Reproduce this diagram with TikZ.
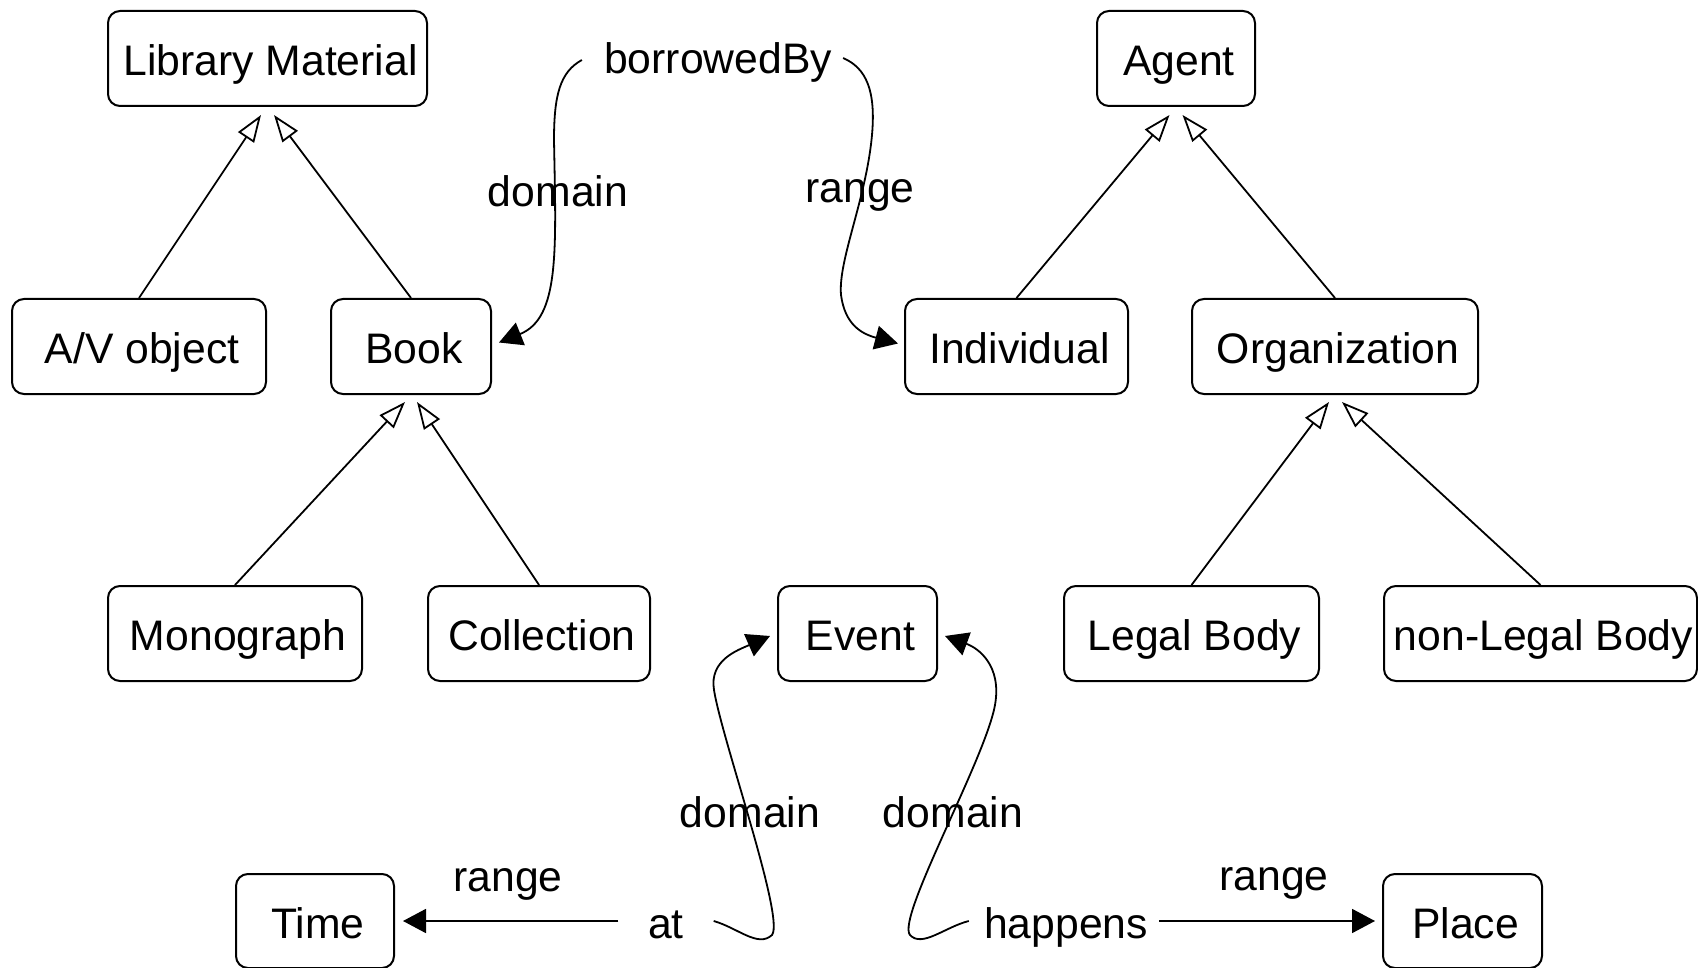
\documentclass[tikz,border=0pt]{standalone}
\usepackage{fontspec}
\setmainfont{Liberation Sans}
\usetikzlibrary{arrows.meta,calc}
\begin{document}
\begin{tikzpicture}[x=1pt,y=-1pt,
  txt/.style={font=\fontsize{42.7}{50}\selectfont},
  box/.style={txt, draw, line width=2pt, rounded corners=12pt, inner sep=0pt,
    minimum height=95pt, text height=43pt, text depth=9pt,
    execute at begin node=\hspace*{6pt}},
  prop/.style={txt, inner sep=0pt, text height=43pt, text depth=9pt},
  lbl/.style={txt, inner sep=0pt, anchor=base},
  gen/.style={line width=1.8pt, -{Triangle[open,length=27pt,width=19pt,fill=white]}},
  rel/.style={line width=1.8pt, -{Triangle[length=23pt,width=24pt]}},
]
\useasboundingbox (0,0) rectangle (1698,968);

% class boxes
\node[box, minimum width=319pt] (lib)      at (267.5,58.5)  {Library Material};
\node[box, minimum width=254pt] (av)       at (139,346.5)   {A/V object};
\node[box, minimum width=160pt] (book)     at (411,346.5)   {Book};
\node[box, minimum width=158pt] (agent)    at (1176,58.5)   {Agent};
\node[box, minimum width=223pt] (indiv)    at (1016.5,346.5){Individual};
\node[box, minimum width=286pt] (org)      at (1335,346.5)  {Organization};
\node[box, minimum width=254pt] (mono)     at (235,633.5)   {Monograph};
\node[box, minimum width=222pt] (coll)     at (539,633.5)   {Collection};
\node[box, minimum width=159pt] (event)    at (857.5,633.5) {Event};
\node[box, minimum width=255pt] (legal)    at (1191.5,633.5){Legal Body};
\node[box, minimum width=313pt] (nonlegal) at (1540.5,633.5){non-Legal Body};
\node[box, minimum width=158pt, minimum height=94pt] (time)  at (315,921)  {Time};
\node[box, minimum width=159pt, minimum height=94pt] (place) at (1462.5,921) {Place};

% property nodes
\node[prop] (bb) at (718,57) {borrowedBy};
\node[prop, minimum width=95pt] (at) at (666,921) {at};
\node[prop, minimum width=190pt] (hap) at (1064,921) {\hspace*{4pt}happens};

% edge labels
\node[lbl] (dom1) at (558,207) {domain};
\node[lbl] (rng1) at (860,203) {range};
\node[lbl] (dom2) at (750,827) {domain};
\node[lbl] (dom3) at (953,827) {domain};
\node[lbl] (rng2) at (508,891) {range};
\node[lbl] (rng3) at (1274,890) {range};

% generalizations
\draw[gen] (av.north)    -- ($(lib.south)+(-6.5,8)$);
\draw[gen] (book.north)  -- ($(lib.south)+(6.5,8)$);
\draw[gen] (indiv.north) -- ($(agent.south)+(-6.5,8)$);
\draw[gen] (org.north)   -- ($(agent.south)+(6.5,8)$);
\draw[gen] (mono.north)  -- ($(book.south)+(-6,7)$);
\draw[gen] (coll.north)  -- ($(book.south)+(6,7)$);
\draw[gen] (legal.north) -- ($(org.south)+(-6,7)$);
\draw[gen] (nonlegal.north) -- ($(org.south)+(7,7)$);

% borrowedBy
\draw[rel] ($(bb.west)+(-22,3)$) .. controls (560,72) and (554,95) .. (554,140)
  .. controls (556,250) and (560,318) .. ($(book.east)+(7,-4)$);
\draw[rel] ($(bb.east)+(11,1)$) .. controls (866,68) and (876,90) .. (872,135)
  .. controls (866,200) and (838,260) .. (841,295)
  .. controls (845,325) and (862,334) .. ($(indiv.west)+(-6,-3)$);

% at
\draw[rel] (at.east) .. controls (738,928) and (758,948) .. (772,935)
  .. controls (785,918) and (722,740) .. (714,690)
  .. controls (709,660) and (738,650) .. ($(event.west)+(-7,2.5)$);
\draw[rel, shorten >=8pt] (at.west) -- (time.east);

% happens
\draw[rel] (hap.west) .. controls (945,927) and (922,948) .. (910,935)
  .. controls (896,918) and (985,760) .. (995,705)
  .. controls (1002,665) and (978,648) .. ($(event.east)+(7,2.5)$);
\draw[rel, shorten >=7pt] (hap.east) -- (place.west);
\end{tikzpicture}
\end{document}
